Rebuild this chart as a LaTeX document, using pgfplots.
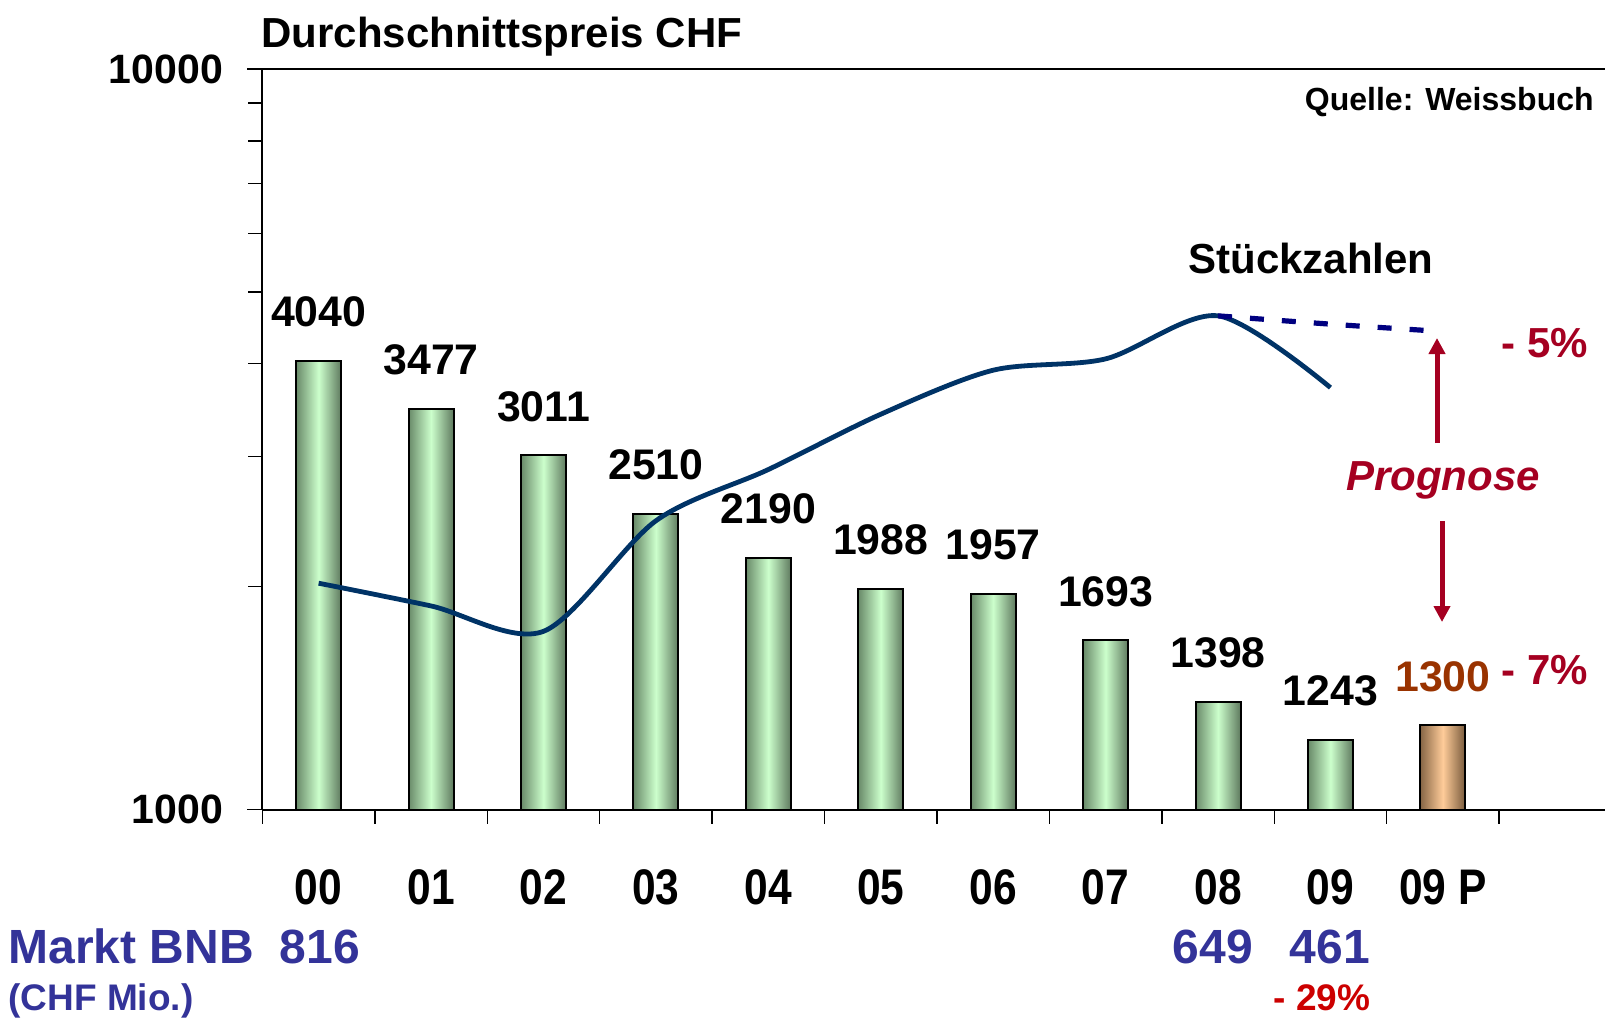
\documentclass[border=0pt]{standalone}
\usepackage{fontspec}
\setmainfont{Liberation Sans}
\usepackage{graphicx}
\usepackage{pgfplots}
\pgfplotsset{compat=1.18}
\usetikzlibrary{arrows.meta}

\definecolor{gdark}{RGB}{105,138,105}
\definecolor{glight}{RGB}{204,255,204}
\definecolor{gdark2}{RGB}{95,122,95}
\definecolor{odark}{RGB}{135,102,70}
\definecolor{olight}{RGB}{255,204,153}
\definecolor{odark2}{RGB}{120,90,60}
\definecolor{linec}{RGB}{0,51,102}
\definecolor{dashc}{RGB}{0,0,128}
\definecolor{crim}{RGB}{165,0,33}
\definecolor{brownc}{RGB}{153,51,0}
\definecolor{mblue}{RGB}{51,51,153}
\definecolor{mred}{RGB}{204,0,0}

\newcommand\fs[1]{\fontsize{#1}{#1}\selectfont\bfseries}
\newcommand\xl[1]{\scalebox{0.85}[1]{#1}}

\pgfplotsset{
  gbar/.style={ybar, bar width=22.5pt, draw=black, line width=1pt,
    left color=gdark, right color=gdark2, middle color=glight,
    point meta=explicit symbolic, nodes near coords,
    nodes near coords style={font=\fs{21.4pt}, anchor=base, inner sep=0pt, yshift=17pt, text=black}},
  obar/.style={ybar, bar width=22.5pt, draw=black, line width=1pt,
    left color=odark, right color=odark2, middle color=olight,
    point meta=explicit symbolic, nodes near coords,
    nodes near coords style={font=\fs{21.4pt}, anchor=base, inner sep=0pt, yshift=17pt, text=brownc}},
}

\begin{document}
\begin{tikzpicture}
\useasboundingbox (0,0) rectangle (803.5pt,-509pt);
\begin{axis}[
  at={(131.2pt,-404.85pt)}, anchor=south west,
  scale only axis, width=671.3pt, height=370.35pt,
  ymode=log, ymin=1000, ymax=10000, log origin=infty,
  xmin=-0.5, xmax=11.442,
  axis lines=left, axis line style={-, line width=1pt},
  tick align=outside, tick style={black, line width=0.75pt},
  major tick length=7.5pt, minor tick length=7pt,
  ytick={1000,10000}, yticklabels={1000,10000},
  minor ytick={2000,3000,4000,5000,6000,7000,8000,9000},
  yticklabel style={font=\fs{20.5pt}, anchor=east, inner sep=0pt, xshift=-12pt},
  xtick={0,1,2,3,4,5,6,7,8,9,10},
  xticklabels={\xl{00},\xl{01},\xl{02},\xl{03},\xl{04},\xl{05},\xl{06},\xl{07},\xl{08},\xl{09},\xl{09 P}},
  major x tick style={draw=none},
  minor xtick={-0.5,0.5,1.5,2.5,3.5,4.5,5.5,6.5,7.5,8.5,9.5,10.5},
  xticklabel style={font=\fs{25pt}, anchor=base, inner sep=0pt, yshift=-39.7pt},
  clip=false,
]
\addplot[gbar] coordinates {(0,4040)[4040]};
\addplot[gbar] coordinates {(1,3477)[3477]};
\addplot[gbar] coordinates {(2,3011)[3011]};
\addplot[gbar] coordinates {(3,2510)[2510]};
\addplot[gbar] coordinates {(4,2190)[2190]};
\addplot[gbar] coordinates {(5,1988)[1988]};
\addplot[gbar] coordinates {(6,1957)[1957]};
\addplot[gbar] coordinates {(7,1693)[1693]};
\addplot[gbar] coordinates {(8,1398)[1398]};
\addplot[gbar] coordinates {(9,1243)[1243]};
\addplot[obar] coordinates {(10,1300)[1300]};
\addplot[smooth, linec, line width=2.4pt] coordinates {
  (0,2022) (1,1884) (2,1741) (3,2455) (4,2879) (5,3419) (6,3921) (7,4061) (8,4642) (9,3714)};
\addplot[smooth, dashc, line width=2.6pt, dash pattern=on 7pt off 9pt] coordinates {
  (8,4642) (9,4524) (9.96,4425)};
\draw[line width=1pt] (rel axis cs:0,1) -- (rel axis cs:1,1);
\end{axis}
\begin{scope}[x=0.5pt,y=-0.5pt]
\node[anchor=base west, inner sep=0pt, font=\fs{21pt}] at (261,47) {Durchschnittspreis CHF};
\node[anchor=base east, inner sep=0pt, font=\fs{16pt}] at (1594,110) {Quelle: Weissbuch};
\node[anchor=base, inner sep=0pt, font=\fs{21pt}] at (1311,273) {Stückzahlen};
\node[anchor=base west, inner sep=0pt, font=\fs{21pt}, text=crim] at (1501,357) {- 5\%};
\node[anchor=base, inner sep=0pt, font=\fs{21pt}\itshape, text=crim] at (1443,490) {Prognose};
\node[anchor=base west, inner sep=0pt, font=\fs{21pt}, text=crim] at (1501,684) {- 7\%};
\draw[crim, line width=2.5pt, -{Triangle[width=8pt,length=8pt]}] (1437,443) -- (1437,338);
\draw[crim, line width=2.5pt, -{Triangle[width=8pt,length=8pt]}] (1442,521) -- (1442,622);
\node[anchor=base west, inner sep=0pt, font=\fs{24pt}, text=mblue] at (8,963) {Markt BNB};
\node[anchor=base, inner sep=0pt, font=\fs{24pt}, text=mblue] at (320,963) {816};
\node[anchor=base, inner sep=0pt, font=\fs{24pt}, text=mblue] at (1213,963) {649};
\node[anchor=base, inner sep=0pt, font=\fs{24pt}, text=mblue] at (1330,963) {461};
\node[anchor=base west, inner sep=0pt, font=\fs{18.5pt}, text=mblue] at (8,1010) {(CHF Mio.)};
\node[anchor=base, inner sep=0pt, font=\fs{18.5pt}, text=mred] at (1322,1010) {- 29\%};
\end{scope}
\end{tikzpicture}
\end{document}
